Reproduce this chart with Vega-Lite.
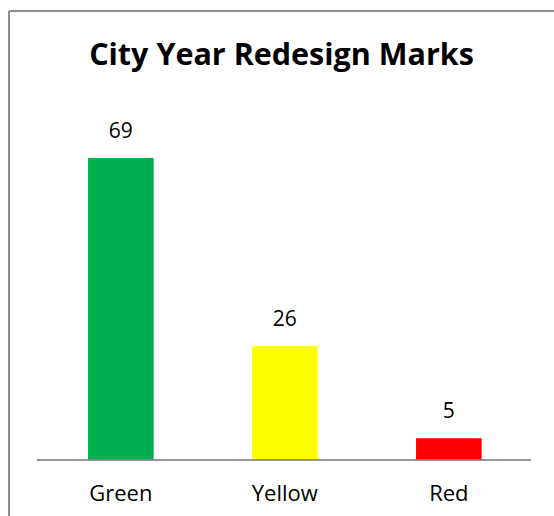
{
  "$schema": "https://vega.github.io/schema/vega-lite/v6.json",
  "width": 545,
  "height": 505,
  "autosize": {"type": "none"},
  "padding": {"left": 9, "top": 11, "right": 0, "bottom": 0},
  "background": "white",
  "view": {"stroke": "#8c8c8c", "strokeWidth": 2, "strokeDash": [545, 1050, 505, 0]},
  "title": {
    "text": "City Year Redesign Marks",
    "font": "Open Sans",
    "fontSize": 30.5,
    "fontWeight": "bold",
    "color": "#000000",
    "anchor": "middle",
    "orient": "top",
    "offset": -84,
    "baseline": "alphabetic"
  },
  "data": {
    "values": [
      {"mark": "Green", "count": 69, "color": "#00B050"},
      {"mark": "Yellow", "count": 26, "color": "#FFFF00"},
      {"mark": "Red", "count": 5, "color": "#FF0000"}
    ]
  },
  "encoding": {
    "x": {
      "field": "mark",
      "type": "nominal",
      "sort": ["Green", "Yellow", "Red"],
      "scale": {"paddingInner": 0.6, "paddingOuter": 0.4616, "align": 0.522},
      "axis": {
        "title": null,
        "domain": false,
        "ticks": false,
        "labelAngle": 0,
        "labelFont": "Open Sans",
        "labelFontSize": 22,
        "labelColor": "#000000",
        "labelPadding": 23,
        "offset": -56
      }
    }
  },
  "layer": [
    {
      "mark": {"type": "bar"},
      "encoding": {
        "y": {
          "field": "count",
          "type": "quantitative",
          "scale": {"domain": [-12.79, 102.59], "nice": false, "zero": false},
          "axis": null
        },
        "color": {"field": "color", "type": "nominal", "scale": null, "legend": null}
      }
    },
    {
      "mark": {"type": "text", "font": "Open Sans", "fontSize": 21, "color": "#000000", "baseline": "middle", "dy": -26.5},
      "encoding": {
        "y": {"field": "count", "type": "quantitative"},
        "text": {"field": "count", "type": "quantitative"}
      }
    },
    {
      "mark": {"type": "rule", "color": "#888888", "strokeWidth": 1, "xOffset": -84, "x2Offset": 82},
      "encoding": {
        "x": {"datum": "Green"},
        "x2": {"datum": "Red"},
        "y": {"datum": 0, "type": "quantitative"}
      }
    }
  ]
}
